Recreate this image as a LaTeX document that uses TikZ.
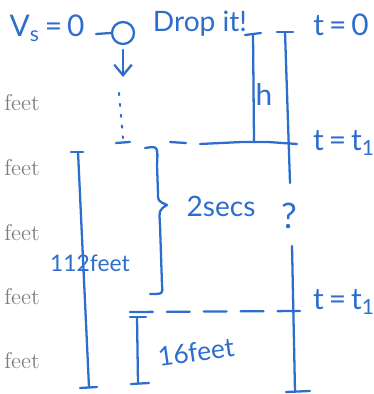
\documentclass[tikz,border=0pt]{standalone}
\usepackage{fontspec}
\usetikzlibrary{arrows.meta}
\newfontfamily\handfont{Lato}
\definecolor{ink}{RGB}{45,110,205}
\definecolor{printgray}{RGB}{125,125,125}

\begin{document}
\begin{tikzpicture}
[x=0.02cm, y=-0.02cm,
 pen/.style={draw=ink, line width=1.3pt, line cap=round, line join=round},
 hand/.style={text=ink, inner sep=0pt, font=\handfont\fontsize{17}{17}\selectfont},
 feetlabel/.style={text=printgray, inner sep=0pt, font=\fontsize{13}{13}\selectfont}]
\useasboundingbox (0,0) rectangle (373,394);

% printed labels of the page underneath
\foreach \y/\name in {103/fa, 168/fb, 233/fc, 297/fd, 361/fe}
  \node[feetlabel] (\name) at (22,\y) {feet};

% top row
\node[hand] (vs) at (47,28) {V\textsubscript{s}\,=\,0};
\node[pen, circle, minimum size=0.44cm, inner sep=0pt] (ball) at (123,33) {};
\coordinate (dashl) at (96,34);
\draw[pen] (dashl) -- (ball.west);
\node[hand, font=\handfont\fontsize{16}{16}\selectfont] (drop) at (200,24) {Drop it!};
\node[hand] (tzero) at (341,25) {t\,=\,0};

% ball falling
\coordinate (arrtop) at (123,50);
\coordinate (arrbot) at (123,77);
\draw[pen, -{Straight Barb[length=6pt, width=10pt]}] (arrtop) -- (arrbot);
\coordinate (dottop) at (119,93);
\coordinate (dotbot) at (123,138);
\draw[pen, line width=1.2pt, dash pattern=on 1.2pt off 5pt] (dottop) -- (dotbot);

% h
\coordinate (htop) at (253,34);
\coordinate (hbot) at (254,141);
\draw[pen] (245,35) -- (261,33);
\draw[pen] (htop) -- (hbot);
\node[hand] (h) at (264,95) {h};

% right height line
\coordinate (rtop) at (285,32);
\coordinate (rmid) at (290,183);
\draw[pen] (277,32) -- (293,32);
\draw[pen] (rtop) -- (rmid);
\node[hand, font=\handfont\fontsize{20}{20}\selectfont] (qmark) at (289,216) {?};
\coordinate (rlow) at (292,246);
\coordinate (rbot) at (295,392);
\draw[pen] (rlow) -- (rbot);
\draw[pen] (286,392) -- (310,391);

% t = t1 (first)
\coordinate (lineA) at (200,144);
\coordinate (lineB) at (297,144);
\draw[pen] (116,143) -- (130,142);
\draw[pen] (170,142) -- (186,143);
\draw[pen] (lineA) -- (242,142) -- (268,142) -- (lineB);
\node[hand] (tone) at (344,143) {t\,=\,t\textsubscript{1}};

% brace for 2 secs
\coordinate (brtop) at (145,148);
\coordinate (brtip) at (167,205);
\coordinate (brbot) at (150,294);
\draw[pen] (brtop) .. controls (158,146) .. (157,165) -- (158,193)
  .. controls (158,201) .. (brtip)
  .. controls (159,210) .. (160,225) -- (162,285)
  .. controls (163,294) .. (brbot);
\node[hand, font=\handfont\fontsize{16}{16}\selectfont] (secs) at (221,206) {2secs};

% 112 feet
\coordinate (bigtop) at (78,152);
\coordinate (bigbot) at (89,387);
\draw[pen] (71,152) -- (83,152);
\draw[pen] (bigtop) -- (bigbot);
\draw[pen] (80,388) -- (97,387);
\node[hand, font=\handfont\fontsize{13}{13}\selectfont] (bigfeet) at (90,263) {112feet};

% t = t1 (second), dashed
\coordinate (lineC) at (130,312);
\coordinate (lineD) at (300,311);
\draw[pen, dash pattern=on 13pt off 8pt] (lineC) -- (lineD);
\node[hand] (ttwo) at (344,302) {t\,=\,t\textsubscript{1}};

% 16 feet
\coordinate (smtop) at (137,317);
\coordinate (smbot) at (138,383);
\draw[pen] (130,317) -- (146,317);
\draw[pen] (smtop) -- (smbot);
\draw[pen] (131,384) -- (149,383);
\node[hand, rotate=8, font=\handfont\fontsize{15}{15}\selectfont] (smfeet) at (196,352) {16feet};
\end{tikzpicture}
\end{document}
